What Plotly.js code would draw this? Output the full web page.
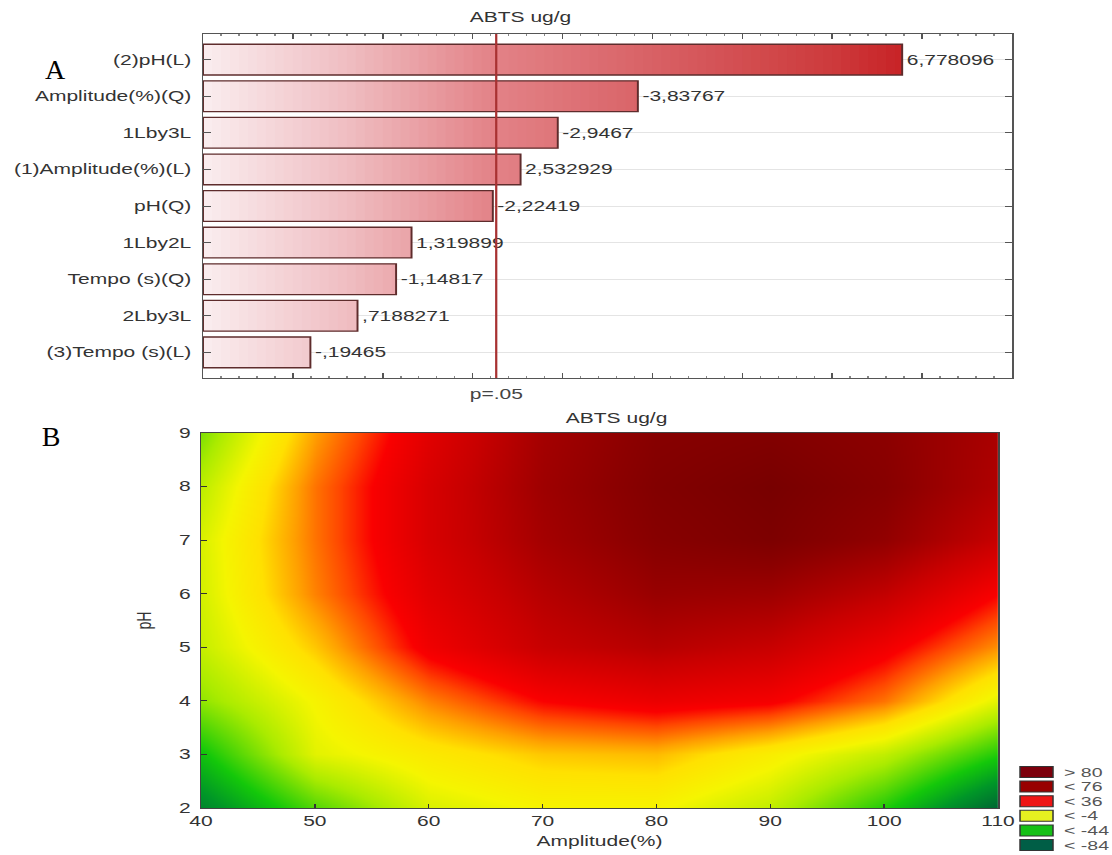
<!DOCTYPE html>
<html><head><meta charset="utf-8">
<script src="https://cdn.plot.ly/plotly-3.0.1.min.js"></script>
<style>
html,body{margin:0;padding:0;background:#fff;overflow:hidden;}
#wrap{position:relative;width:1112px;height:855px;overflow:hidden;}
#chart{position:absolute;left:0;top:0;width:741px;height:855px;transform:scaleX(1.5007);transform-origin:0 0;}
.panel{position:absolute;font-family:'Liberation Serif','Times New Roman',serif;font-size:28px;color:#000;transform:translate(-50%,-50%);line-height:1;}
</style>
</head><body>
<div id="wrap"><div id="chart"></div>
<div class="panel" id="labA" style="left:55px;top:70px;">A</div>
<div class="panel" id="labB" style="left:51px;top:437px;">B</div>
</div>
<script>
// ---------- Panel A: Pareto chart of standardized effects ----------
const effectNames = ['(2)pH(L)','Amplitude(%)(Q)','1Lby3L','(1)Amplitude(%)(L)','pH(Q)','1Lby2L','Tempo (s)(Q)','2Lby3L','(3)Tempo (s)(L)'];
const effectValues = [6.778096,-3.83767,-2.9467,2.532929,-2.22419,1.319899,-1.14817,0.7188271,-0.19465];
const effectLabels = ['6,778096','-3,83767','-2,9467','2,532929','-2,22419','1,319899','-1,14817',',7188271','-,19465'];
const pCritical = 2.262;
const pLabel = 'p=.05';
const chartTitle = 'ABTS ug/g';

// ---------- Panel B: contour surface ABTS (ug/g) ----------
const amplitudeValues = [40,50,60,70,80,90,100,110];
const phValues = [2,3,4,5,6,7,8,9];
const abtsPH2 = [-66,-34,-10,-3,-3,-15,-42,-78];
const abtsPH3 = [-46,-8,2,10,12,0,-15,-42];
const abtsPH4 = [-24,-3,20,36,42,38,22,-8];
const abtsPH5 = [-14,10,40,56,62,56,40,18];
const abtsPH6 = [-11,20,46,62,72,70,58,36];
const abtsPH7 = [-10,22,50,68,78,82,74,56];
const abtsPH8 = [-16,22,50,70,80,84,78,64];
const abtsPH9 = [-27,16,46,68,78,80,76,66];
const levelLabels = ['> 80','< 76','< 36','< -4','< -44','< -84'];
const levelColors = ['#7c000c','#980000','#ee1515','#e6f020','#16c016','#005e46'];
const xTitleB = 'Amplitude(%)';
const yTitleB = 'pH';

// ---------- styles ----------
const W = 1112, H = 855;           // final picture size
const PW = 741;                    // plotly drawing width (stretched horizontally to W)
const px = v => v / W, py = v => 1 - v / H;
const sansFont = 'Liberation Sans, Arial, sans-serif';

const xMinA = -1, xMaxA = 8;
const barWidth = 0.84;
const gradStops = [[-1,[250,237,239]],[0.5,[240,193,197]],[2.2,[227,131,136]],[4,[216,97,101]],[6,[205,58,60]],[7,[198,28,32]],[8,[190,15,20]]];
function gradColor(v){
  if (v <= gradStops[0][0]) return 'rgb(' + gradStops[0][1].join(',') + ')';
  for (let i = 1; i < gradStops.length; i++){
    if (v <= gradStops[i][0]){
      const t = (v - gradStops[i-1][0]) / (gradStops[i][0] - gradStops[i-1][0]);
      const a = gradStops[i-1][1], b = gradStops[i][1];
      return 'rgb(' + a.map((c,j)=>Math.round(c + (b[j]-c)*t)).join(',') + ')';
    }
  }
  return 'rgb(' + gradStops[gradStops.length-1][1].join(',') + ')';
}

const absValues = effectValues.map(Math.abs);
const traces = [];
const nSlices = 90;
const step = (xMaxA - xMinA) / nSlices;
for (let k = 0; k < nSlices; k++){
  const s0 = xMinA + k * step;
  const lens = absValues.map(e => Math.max(0, Math.min(step * 2, e - s0)));
  if (lens.every(l => l <= 0)) continue;
  traces.push({
    type:'bar', orientation:'h', y: effectNames, x: lens, base: s0, width: barWidth,
    marker:{color: gradColor(s0 + step/2), line:{width:0}},
    xaxis:'x', yaxis:'y', hoverinfo:'skip', showlegend:false
  });
}
traces.push({
  type:'bar', orientation:'h', y: effectNames, x: absValues.map(e => e - xMinA), base: xMinA, width: barWidth,
  marker:{color:'rgba(0,0,0,0)', line:{color:'#5e2c2c', width:1.3}},
  text: effectLabels, textposition:'outside', cliponaxis:false,
  textfont:{family: sansFont, size:14, color:'#333'},
  xaxis:'x', yaxis:'y', showlegend:false
});

// heatmap colour scale
const zMin = -84, zMax = 88;
const heatStops = [[-84,'rgb(0,85,55)'],[-60,'rgb(0,150,40)'],[-44,'rgb(20,200,10)'],[-20,'rgb(170,235,0)'],[-4,'rgb(245,245,0)'],[6,'rgb(255,225,0)'],[16,'rgb(255,160,0)'],[28,'rgb(255,70,0)'],[36,'rgb(250,0,0)'],[56,'rgb(200,0,0)'],[76,'rgb(140,0,0)'],[88,'rgb(110,0,0)']];
const colorscale = heatStops.map(s => [(s[0]-zMin)/(zMax-zMin), s[1]]);

traces.push({
  type:'heatmap', x: amplitudeValues, y: phValues,
  z: [abtsPH2, abtsPH3, abtsPH4, abtsPH5, abtsPH6, abtsPH7, abtsPH8, abtsPH9],
  zsmooth:'best', colorscale: colorscale, zmin: zMin, zmax: zMax, showscale:false,
  xaxis:'x2', yaxis:'y2', hoverinfo:'skip'
});

const shapes = [
  {type:'line', xref:'x', yref:'y domain', x0:pCritical, x1:pCritical, y0:0, y1:1, line:{color:'#a83232', width:1.5}, layer:'above'}
];
const annotations = [
  {text: chartTitle, xref:'paper', yref:'paper', x:px(520), y:py(17), yanchor:'middle', showarrow:false, font:{family:sansFont, size:14, color:'#333'}},
  {text: pLabel, xref:'x', yref:'y domain', x:pCritical, y:0, yanchor:'top', yshift:-6, showarrow:false, font:{family:sansFont, size:14, color:'#444'}},
  {text: chartTitle, xref:'paper', yref:'paper', x:px(617), y:py(418), yanchor:'middle', showarrow:false, font:{family:sansFont, size:14, color:'#333'}}
];
levelLabels.forEach((lab, i) => {
  const cy = 772 + i * 14.6;
  shapes.push({type:'rect', xref:'paper', yref:'paper', x0:px(1020), x1:px(1053), y0:py(cy-5.5), y1:py(cy+5.5), fillcolor: levelColors[i], line:{color:'#333', width:1}});
  annotations.push({text: lab, xref:'paper', yref:'paper', x:px(1061), y:py(cy), xanchor:'left', yanchor:'middle', showarrow:false, font:{family:sansFont, size:13, color:'#555'}});
});

const layout = {
  width: PW, height: H, margin:{l:0,r:0,t:0,b:0},
  paper_bgcolor:'#fff', plot_bgcolor:'#fff', showlegend:false, barmode:'overlay',
  xaxis:{domain:[px(203), px(1012)], range:[xMinA, xMaxA], showticklabels:false, ticks:'inside', dtick:1, tick0:0,
    ticklen:5, tickcolor:'#555', showline:true, linecolor:'#555', linewidth:1, mirror:'ticks', showgrid:false, zeroline:false,
    minor:{dtick:0.2, ticks:'inside', ticklen:2, tickcolor:'#888'}, fixedrange:true},
  yaxis:{domain:[py(378), py(34)], type:'category', categoryorder:'array', categoryarray: effectNames, range:[8.7, -0.7],
    ticks:'inside', ticklen:5, tickcolor:'#555', showline:true, linecolor:'#555', linewidth:1, mirror:'ticks',
    showgrid:true, gridcolor:'#e4e4e4', ticklabelstandoff:4, tickfont:{family:sansFont, size:14, color:'#333'}, fixedrange:true},
  xaxis2:{domain:[px(201), px(998)], range:[40,110], dtick:10, ticks:'inside', ticklen:4, tickcolor:'#333', showline:true, linecolor:'#444',
    mirror:true, showgrid:false, zeroline:false, anchor:'y2', tickfont:{family:sansFont, size:14, color:'#333'},
    title:{text:xTitleB, font:{family:sansFont, size:14, color:'#333'}, standoff:8}},
  yaxis2:{domain:[py(808), py(433)], range:[2,9], dtick:1, ticks:'inside', ticklen:4, tickcolor:'#333', showline:true, linecolor:'#444',
    mirror:true, showgrid:false, zeroline:false, anchor:'x2', tickfont:{family:sansFont, size:14, color:'#333'}, ticklabelstandoff:3,
    title:{text:yTitleB, font:{family:sansFont, size:14, color:'#333'}, standoff:14}},
  shapes: shapes, annotations: annotations
};
Plotly.newPlot('chart', traces, layout, {staticPlot:true, displayModeBar:false});
</script></body></html>
